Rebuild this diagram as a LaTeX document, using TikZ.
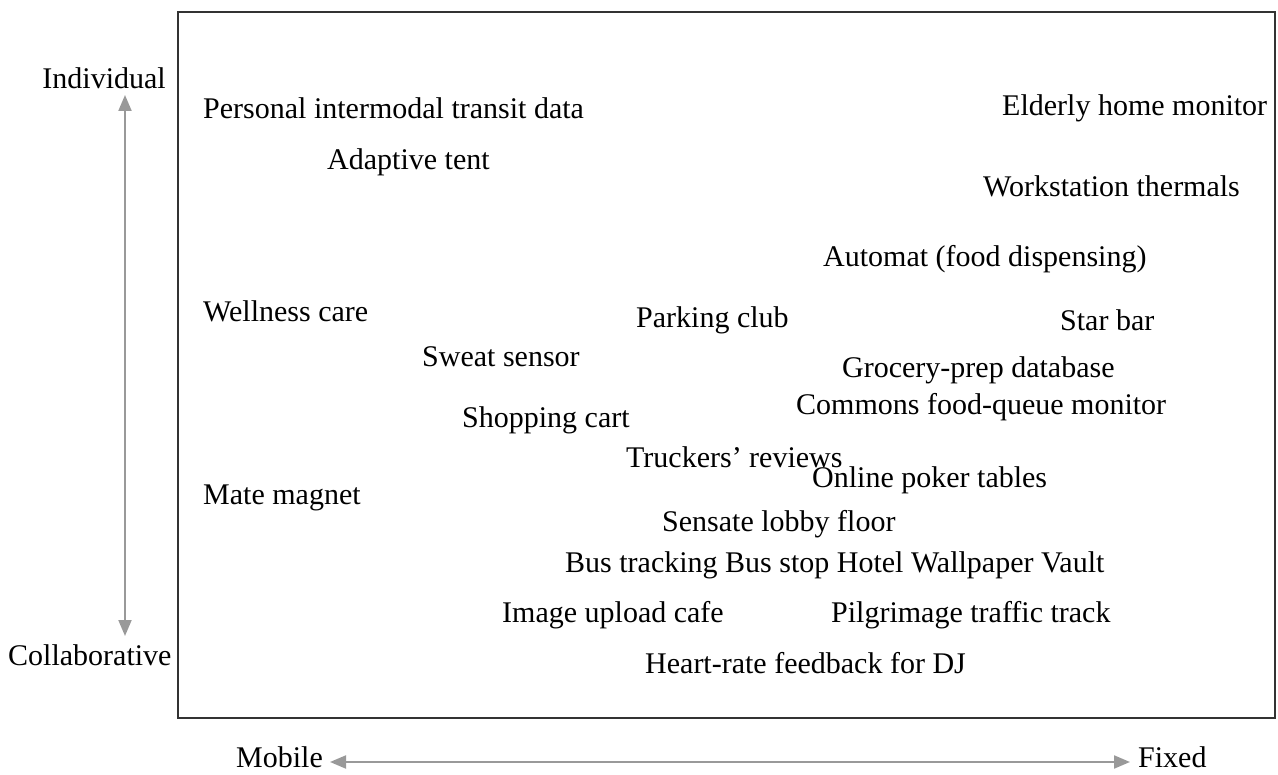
\documentclass[tikz,border=0pt]{standalone}
\usepackage{fontspec}
\setmainfont{Liberation Serif}
\usetikzlibrary{arrows.meta}
\definecolor{boxc}{HTML}{333333}
\definecolor{arrc}{HTML}{999999}
\begin{document}
\begin{tikzpicture}[x=1pt,y=-1pt,
  lbl/.style={anchor=west,inner sep=0pt,font=\fontsize{30}{34}\selectfont},
  axl/.style={inner sep=0pt,font=\fontsize{30}{34}\selectfont},
  axarr/.style={draw=arrc,line width=2pt,{Triangle[length=16pt,width=13pt]}-{Triangle[length=16pt,width=13pt]}}]
\useasboundingbox (0,0) rectangle (1278,775);
\draw[boxc,line width=2.2pt] (178,12) rectangle (1275,718);
\node[axl,anchor=east] (ind) at (166,78) {Individual};
\node[axl,anchor=west] (col) at (8,655) {Collaborative};
\node[axl,anchor=base west] (mob) at (236,767) {Mobile};
\node[axl,anchor=base west] (fix) at (1138,767) {Fixed};
\coordinate (vt) at (125,95);
\coordinate (vb) at (125,636);
\draw[axarr] (vt) -- (vb);
\coordinate (hl) at (330,762);
\coordinate (hr) at (1130,762);
\draw[axarr] (hl) -- (hr);
\node[lbl] (n1) at (203,108) {Personal intermodal transit data};
\node[lbl] (n2) at (1002,108) {Elderly home monitor};
\node[lbl] (n3) at (327,162) {Adaptive tent};
\node[lbl] (n4) at (983,186) {Workstation thermals};
\node[lbl] (n5) at (823,259) {Automat (food dispensing)};
\node[lbl] (n6) at (203,311) {Wellness care};
\node[lbl] (n7) at (636,320) {Parking club};
\node[lbl] (n8) at (1060,320) {Star bar};
\node[lbl] (n9) at (422,357) {Sweat sensor};
\node[lbl] (n10) at (842,370) {Grocery-prep database};
\node[lbl] (n11) at (796,407) {Commons food-queue monitor};
\node[lbl] (n12) at (462,420) {Shopping cart};
\node[lbl] (n13) at (626,457) {Truckers’ reviews};
\node[lbl] (n14) at (812,480) {Online poker tables};
\node[lbl] (n15) at (203,498) {Mate magnet};
\node[lbl] (n16) at (662,524) {Sensate lobby floor};
\node[lbl] (n17) at (565,565) {Bus tracking Bus stop Hotel Wallpaper Vault};
\node[lbl] (n18) at (502,615) {Image upload cafe};
\node[lbl] (n19) at (831,615) {Pilgrimage traffic track};
\node[lbl] (n20) at (645,663) {Heart-rate feedback for DJ};
\end{tikzpicture}
\end{document}
